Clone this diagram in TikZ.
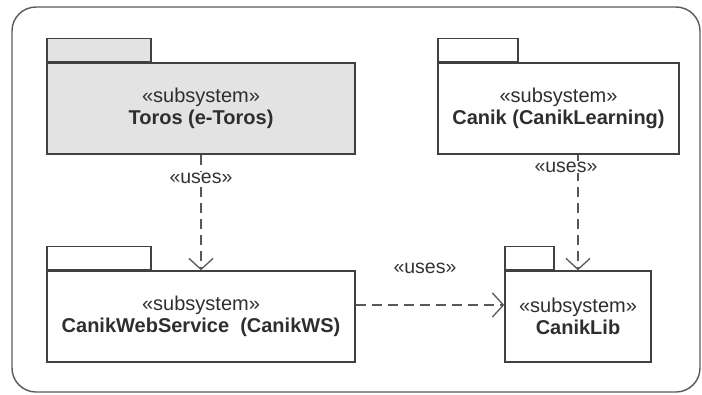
\documentclass[tikz,border=0pt]{standalone}
\usepackage{fontspec}
\setmainfont{Liberation Sans}
\usetikzlibrary{arrows.meta,calc}
\begin{document}
\begin{tikzpicture}[x=1pt,y=-1pt,
  pkg/.style={draw=black!75, line width=1.4pt, rectangle, minimum height=91pt, inner sep=0pt, align=center, text=black!82, font=\fontsize{20}{22}\selectfont},
  tab/.style={draw=black!75, line width=1.4pt, rectangle, minimum height=23pt, inner sep=0pt, anchor=south west},
  dep/.style={draw=black!65, line width=1.3pt, dash pattern=on 10pt off 6pt, -{Straight Barb[length=11pt,width=24pt,line width=1.3pt]}},
  lbl/.style={fill=white, inner sep=1pt, text=black!80, font=\fontsize{19.5}{22}\selectfont}]
\useasboundingbox (0,0) rectangle (702,394);
\draw[black!65, line width=1.4pt, rounded corners=24pt] (12,7) rectangle (700,392);
% packages
\node[pkg, fill=black!11, minimum width=308pt] (toros) at (201,108.5) {«subsystem»\\\textbf{Toros (e-Toros)}};
\node[tab, fill=black!11, minimum width=104pt] (torostab) at (toros.north west) {};
\node[pkg, minimum width=241pt] (canik) at (558.5,108.5) {«subsystem»\\\textbf{Canik (CanikLearning)}};
\node[tab, minimum width=80pt] (caniktab) at (canik.north west) {};
\node[pkg, minimum width=308pt] (cws) at (201,316.5) {«subsystem»\\\textbf{CanikWebService\ \ (CanikWS)}};
\node[tab, minimum width=104pt] (cwstab) at (cws.north west) {};
\node[pkg, minimum width=146pt] (lib) at (578,316.5) {«subsystem»\\\textbf{CanikLib}};
\node[tab, minimum width=49pt] (libtab) at (lib.north west) {};
% dependencies
\draw[dep] (toros.south) -- (cws.north);
\draw[dep] (canik.south -| lib.north) -- (lib.north);
\coordinate (hy) at (0,305);
\draw[dep] (hy -| cws.east) -- (hy -| lib.west);
% labels
\node[lbl] (u1) at (201,178) {«uses»};
\node[lbl] (u2) at (566,167) {«uses»};
\node[lbl] (u3) at (425,268) {«uses»};
\end{tikzpicture}
\end{document}
